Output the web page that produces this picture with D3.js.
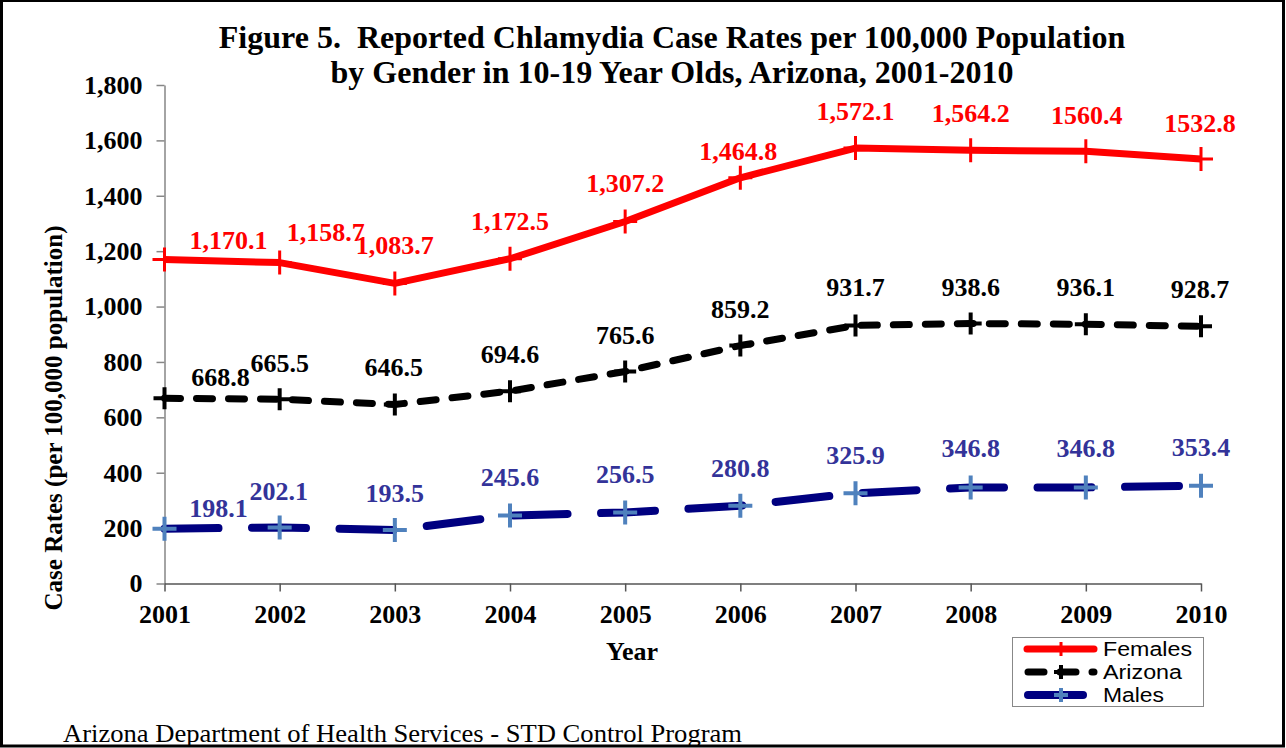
<!DOCTYPE html>
<html>
<head>
<meta charset="utf-8">
<script src="https://cdn.jsdelivr.net/npm/d3@7"></script>
<style>
html, body { margin: 0; padding: 0; background: #fff; }
svg { display: block; }
</style>
</head>
<body>
<svg id="chart" width="1286" height="748"></svg>
<script>
const years = ["2001","2002","2003","2004","2005","2006","2007","2008","2009","2010"];
const females = [1170.1, 1158.7, 1083.7, 1172.5, 1307.2, 1464.8, 1572.1, 1564.2, 1560.4, 1532.8];
const arizona = [668.8, 665.5, 646.5, 694.6, 765.6, 859.2, 931.7, 938.6, 936.1, 928.7];
const males = [198.1, 202.1, 193.5, 245.6, 256.5, 280.8, 325.9, 346.8, 346.8, 353.4];
const femaleLabels = ["1,170.1","1,158.7","1,083.7","1,172.5","1,307.2","1,464.8","1,572.1","1,564.2","1560.4","1532.8"];
const arizonaLabels = ["668.8","665.5","646.5","694.6","765.6","859.2","931.7","938.6","936.1","928.7"];
const maleLabels = ["198.1","202.1","193.5","245.6","256.5","280.8","325.9","346.8","346.8","353.4"];
const yTicks = [0, 200, 400, 600, 800, 1000, 1200, 1400, 1600, 1800];
const legendNames = ["Females", "Arizona", "Males"];

// label nudges (layout only): [dx, dy] of label centre relative to the point
const femaleNudge = [[64,-19],[46,-31],[0,-38],[0,-38],[0,-38],[-2,-27],[0,-37],[0,-37],[1,-36],[-1,-36]];
const arizonaNudge = [[56,-21],[0,-36],[-1,-37],[0,-37],[0,-36],[0,-37],[0,-38],[0,-37],[0,-37],[-1,-37]];
const maleNudge = [[54,-21],[-1,-37],[0,-37],[0,-38],[0,-38],[0,-38],[0,-38],[0,-39],[0,-39],[0,-39]];
const legendTextWidths = [89, 79, 61];

const svg = d3.select("#chart");
const serif = "'Liberation Serif', 'Times New Roman', serif";
const sans = "'Liberation Sans', Arial, sans-serif";

const x = d3.scalePoint().domain(years).range([164.5, 1201]);
const y = d3.scaleLinear().domain([0, 1800]).range([583.5, 85]);

// border
svg.append("rect").attr("x", 1.5).attr("y", 0.5).attr("width", 1282).attr("height", 745.5)
  .attr("fill", "none").attr("stroke", "#000").attr("stroke-width", 3);

// title
const title = svg.append("text").attr("text-anchor", "middle")
  .attr("font-family", serif).attr("font-weight", "bold").attr("font-size", 32).attr("fill", "#000");
title.append("tspan").attr("x", 672).attr("y", 48)
  .text("Figure 5.\u00A0 Reported Chlamydia Case Rates per 100,000 Population");
title.append("tspan").attr("x", 672).attr("y", 83).text("by Gender in 10-19 Year Olds, Arizona, 2001-2010");

// y axis
const yAxis = svg.append("g").attr("transform", "translate(164.5,0)")
  .call(d3.axisLeft(y).tickValues(yTicks).tickFormat(d3.format(",")).tickSizeInner(8).tickSizeOuter(0).tickPadding(14));
yAxis.select(".domain").attr("stroke", "#868686").attr("stroke-width", 1.5);
yAxis.selectAll(".tick line").attr("stroke", "#868686").attr("stroke-width", 1.5);
yAxis.selectAll(".tick text").attr("font-family", serif).attr("font-weight", "bold")
  .attr("font-size", 26).attr("fill", "#000");

// x axis
const xAxis = svg.append("g").attr("transform", "translate(0,583.5)")
  .call(d3.axisBottom(x).tickSizeInner(8).tickSizeOuter(0).tickPadding(13));
xAxis.select(".domain").attr("stroke", "#555").attr("stroke-width", 1.5);
xAxis.selectAll(".tick line").attr("stroke", "#555").attr("stroke-width", 1.5);
xAxis.selectAll(".tick text").attr("font-family", serif).attr("font-weight", "bold")
  .attr("font-size", 26).attr("fill", "#000");

// axis titles
svg.append("text").attr("x", 632).attr("y", 660).attr("text-anchor", "middle")
  .attr("font-family", serif).attr("font-weight", "bold").attr("font-size", 26).text("Year");
svg.append("text").attr("transform", "translate(62,418) rotate(-90)").attr("text-anchor", "middle")
  .attr("font-family", serif).attr("font-weight", "bold").attr("font-size", 25)
  .text("Case Rates (per 100,000 population)");

// series
const series = [
  { name: "Females", values: females, labels: femaleLabels, nudge: femaleNudge,
    line: "#ff0000", width: 7, dash: null, marker: "#ff0000", mw: 3, ms: 12, label: "#ff0000" },
  { name: "Arizona", values: arizona, labels: arizonaLabels, nudge: arizonaNudge,
    line: "#000000", width: 7, dash: "16,16", marker: "#000000", mw: 4, ms: 11, label: "#000000" },
  { name: "Males", values: males, labels: maleLabels, nudge: maleNudge,
    line: "#000080", width: 8, dash: "54,33.5", marker: "#4f81bd", mw: 4, ms: 12, label: "#333399" }
];

const lineGen = d3.line().x((d, i) => x(years[i])).y(d => y(d));

series.forEach(s => {
  const g = svg.append("g");
  g.append("path").attr("d", lineGen(s.values)).attr("fill", "none")
    .attr("stroke", s.line).attr("stroke-width", s.width)
    .attr("stroke-linecap", s.dash ? "round" : "butt").attr("stroke-linejoin", "round")
    .attr("stroke-dasharray", s.dash);
  s.values.forEach((v, i) => {
    const px = x(years[i]), py = y(v);
    g.append("path").attr("d", `M${px - s.ms},${py}H${px + s.ms}M${px},${py - s.ms}V${py + s.ms}`)
      .attr("stroke", s.marker).attr("stroke-width", s.mw).attr("fill", "none");
  });
  s.values.forEach((v, i) => {
    const px = x(years[i]), py = y(v);
    g.append("text").attr("x", px + s.nudge[i][0]).attr("y", py + s.nudge[i][1] + 9)
      .attr("text-anchor", "middle").attr("font-family", serif).attr("font-weight", "bold")
      .attr("font-size", 26).attr("fill", s.label).text(s.labels[i]);
  });
});

// legend
const lg = svg.append("g");
lg.append("rect").attr("x", 1012.5).attr("y", 637.5).attr("width", 191).attr("height", 69)
  .attr("fill", "#fff").attr("stroke", "#888").attr("stroke-width", 1);
const legY = [649, 672, 695];
const legTextY = [656, 679, 702];
series.forEach((s, i) => {
  const cy = legY[i];
  if (s.name === "Females") {
    lg.append("line").attr("x1", 1027).attr("x2", 1094).attr("y1", cy).attr("y2", cy)
      .attr("stroke", s.line).attr("stroke-width", s.width).attr("stroke-linecap", "round");
  } else if (s.name === "Arizona") {
    lg.append("line").attr("x1", 1028).attr("x2", 1094).attr("y1", cy).attr("y2", cy)
      .attr("stroke", s.line).attr("stroke-width", s.width).attr("stroke-linecap", "round")
      .attr("stroke-dasharray", "16,16");
  } else {
    lg.append("line").attr("x1", 1028).attr("x2", 1083).attr("y1", cy).attr("y2", cy)
      .attr("stroke", s.line).attr("stroke-width", s.width).attr("stroke-linecap", "round");
  }
  const mx = 1061, ms = 7;
  lg.append("path").attr("d", `M${mx - ms},${cy}H${mx + ms}M${mx},${cy - ms}V${cy + ms}`)
    .attr("stroke", s.marker).attr("stroke-width", s.mw).attr("fill", "none");
  lg.append("text").attr("x", 1103).attr("y", legTextY[i]).attr("font-family", sans)
    .attr("font-size", 20).attr("fill", "#000")
    .attr("textLength", legendTextWidths[i]).attr("lengthAdjust", "spacingAndGlyphs")
    .text(legendNames[i]);
});

// source
svg.append("text").attr("x", 63).attr("y", 742).attr("font-family", serif)
  .attr("font-size", 26).attr("fill", "#000")
  .attr("textLength", 679).attr("lengthAdjust", "spacingAndGlyphs")
  .text("Arizona Department of Health Services - STD Control Program");
</script>
</body>
</html>
